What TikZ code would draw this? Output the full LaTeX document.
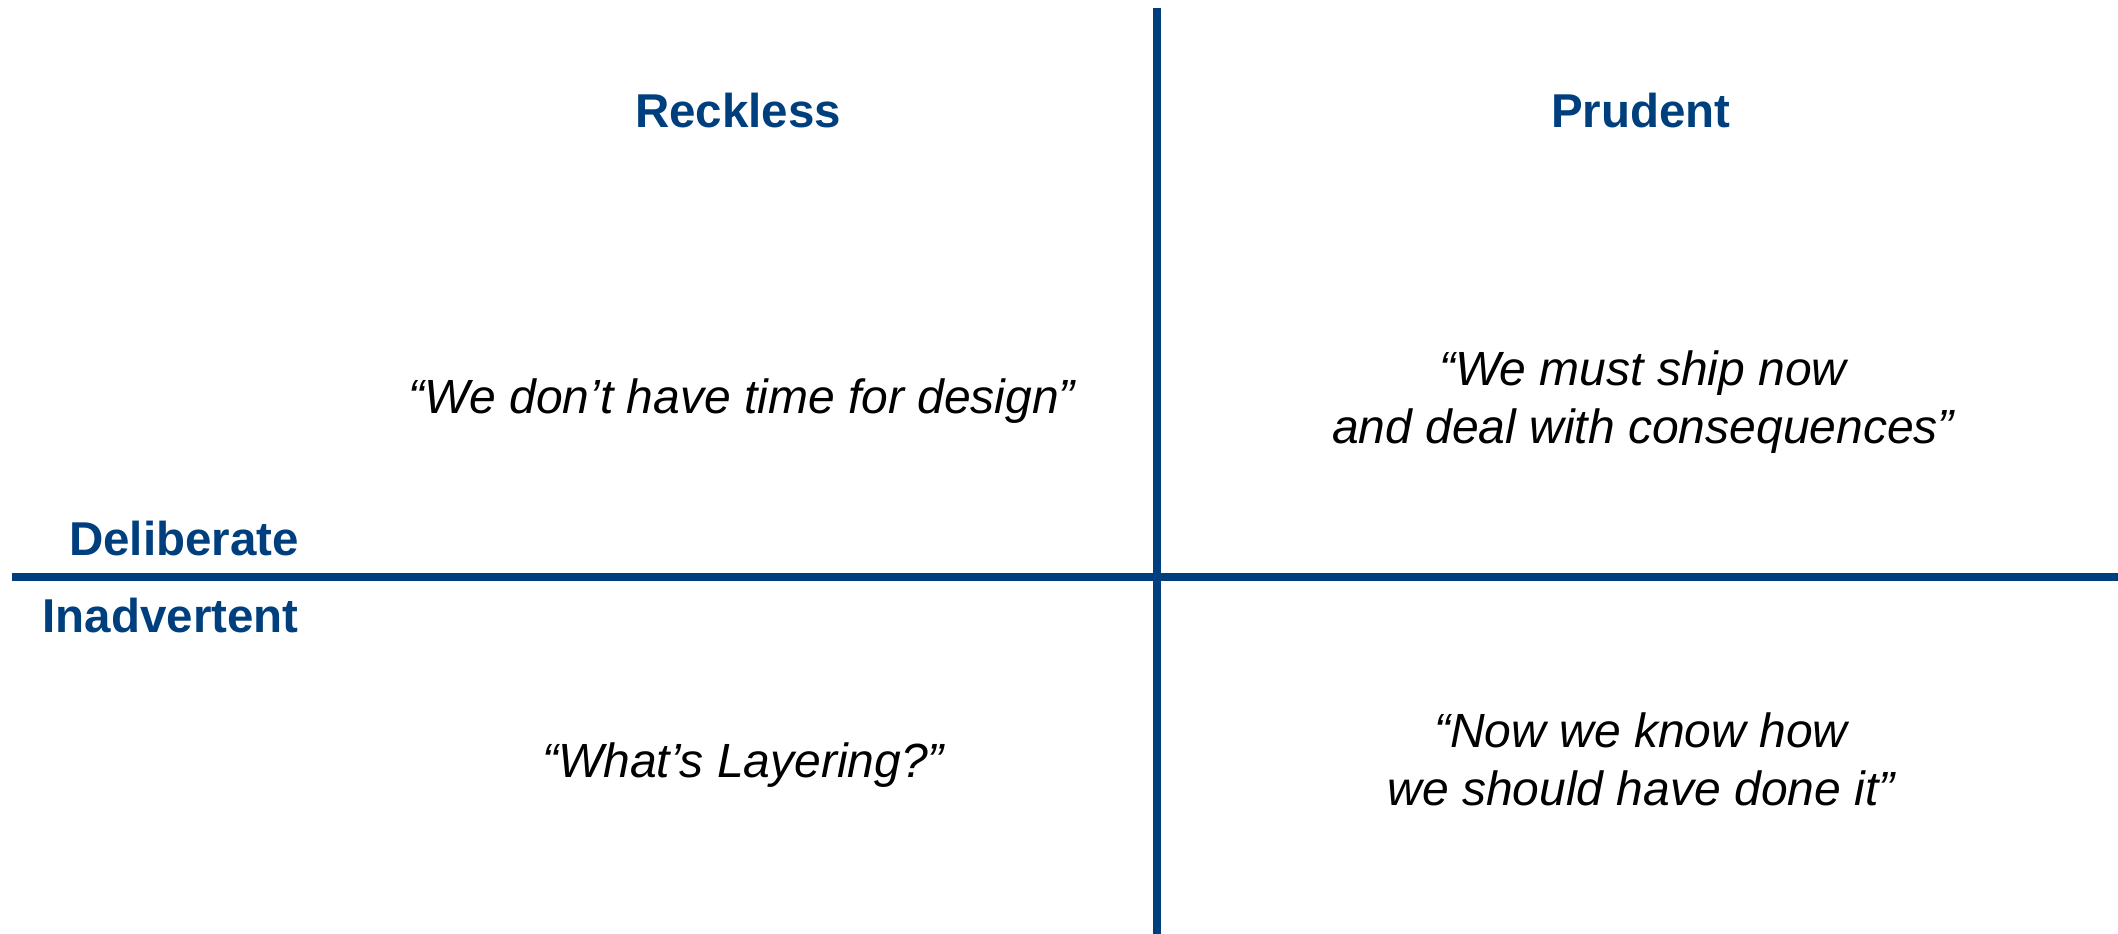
\documentclass[tikz,border=0pt]{standalone}
\usepackage{fontspec}
\setmainfont{Liberation Sans}
\usetikzlibrary{positioning}
\definecolor{axisblue}{RGB}{0,63,125}

\begin{document}
\begin{tikzpicture}[x=1pt,y=-1pt,
  axislabel/.style={text=axisblue,font=\fontsize{47.5}{52}\selectfont\bfseries,inner sep=0pt},
  quote/.style={font=\fontsize{48}{58}\selectfont\itshape,align=center,inner sep=0pt},
  axisline/.style={draw=axisblue,line width=8pt}]
\useasboundingbox (0,0) rectangle (2118,934);
% axes
\coordinate (top) at (1157,8);
\coordinate (bot) at (1157,934);
\coordinate (lft) at (12,577);
\coordinate (rgt) at (2118,577);
\draw[axisline] (top) -- (bot);
\draw[axisline] (lft) -- (rgt);
% labels
\node[axislabel,anchor=base] (reck) at (738,127) {Reckless};
\node[axislabel,anchor=base] (prud) at (1641,127) {Prudent};
\node[axislabel,anchor=base east] (delib) at (299,555) {Deliberate};
\node[axislabel,anchor=base east] (inadv) at (299,632) {Inadvertent};
% quotes (base = last line)
\node[quote,anchor=base] (qa) at (742,413) {“We don’t have time for design”};
\node[quote,anchor=base] (qb) at (1643,443) {“We must ship now\\and deal with consequences”};
\node[quote,anchor=base] (qc) at (743,777) {“What’s Layering?”};
\node[quote,anchor=base] (qd) at (1641,805) {“Now we know how\\we should have done it”};
\end{tikzpicture}
\end{document}
